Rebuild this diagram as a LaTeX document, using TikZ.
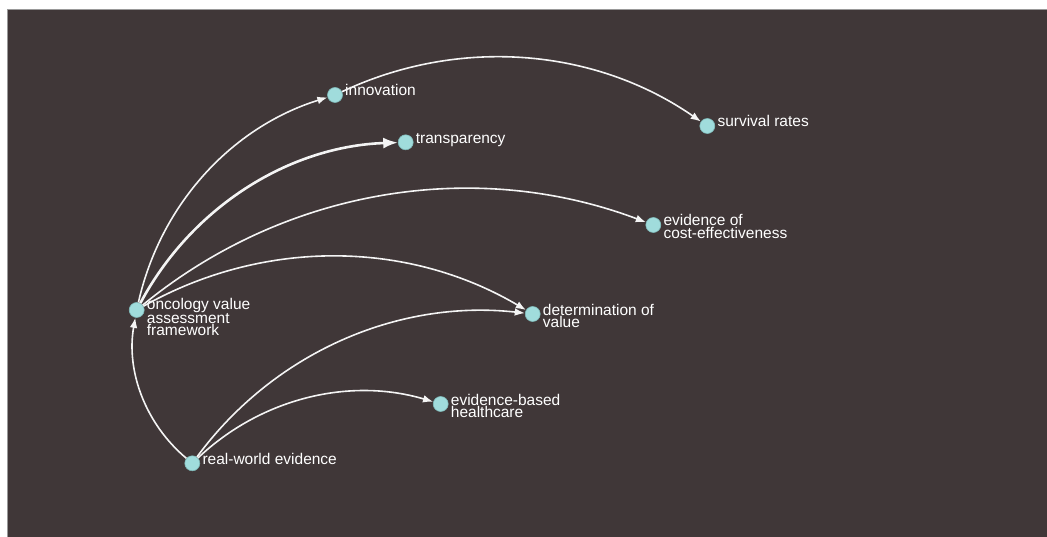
\documentclass[tikz,border=0pt]{standalone}
\usepackage{fontspec}
\setmainfont{Liberation Sans}
\usetikzlibrary{arrows.meta}

\definecolor{panel}{HTML}{403738}
\definecolor{dotfill}{HTML}{A0DCDC}
\definecolor{dotline}{HTML}{80BABA}
\definecolor{edge}{HTML}{F4F4F4}

\tikzset{
  dot/.style={circle, fill=dotfill, draw=dotline, line width=0.6pt, minimum size=15pt, inner sep=0pt},
  tag/.style={anchor=base west, inner sep=0pt, text=white, align=left, font=\fontsize{15.5}{12.5}\selectfont},
  link/.style={draw=edge, line width=1.6pt, -{Latex}, bend left=30, looseness=0.92},
}

\begin{document}
\begin{tikzpicture}[x=1pt, y=-1pt]

    \useasboundingbox (0,0) rectangle (1047,537);
    \fill[white] (0,0) rectangle (1047,537);
    \draw[fill=panel, draw=gray!80, line width=1.5pt] (7.5,9.5) rectangle (1050,540);

    % nodes
    \node[dot] (ova) at (136.7,310) {};
    \node[dot] (innovation) at (335,95) {};
    \node[dot] (transparency) at (405.7,142.3) {};
    \node[dot] (survival) at (707.3,126) {};
    \node[dot] (costeff) at (653.3,225) {};
    \node[dot] (determination) at (532.7,314) {};
    \node[dot] (ebh) at (440.7,404) {};
    \node[dot] (rwe) at (192.3,463.3) {};

    % labels (base sits on the last line)
    \node[tag] (ova-t) at (146.7,336) {oncology value\\assessment\\framework};
    \node[tag] (innovation-t) at (345,96) {innovation};
    \node[tag] (transparency-t) at (415.7,143.3) {transparency};
    \node[tag] (survival-t) at (717.3,127) {survival rates};
    \node[tag] (costeff-t) at (663.3,238.5) {evidence of\\cost-effectiveness};
    \node[tag] (determination-t) at (542.7,327.5) {determination of\\value};
    \node[tag] (ebh-t) at (450.7,417.5) {evidence-based\\healthcare};
    \node[tag] (rwe-t) at (202.3,464.3) {real-world evidence};

    % links
    \draw[link] (ova) to (innovation);
    \draw[link] (innovation) to (survival);
    \draw[link, line width=2.6pt] (ova) to (transparency);
    \draw[link] (ova) to (costeff);
    \draw[link] (ova) to (determination);
    \draw[link] (rwe) to (determination);
    \draw[link] (rwe) to (ebh);
    \draw[link] (rwe) to (ova);

\end{tikzpicture}
\end{document}
